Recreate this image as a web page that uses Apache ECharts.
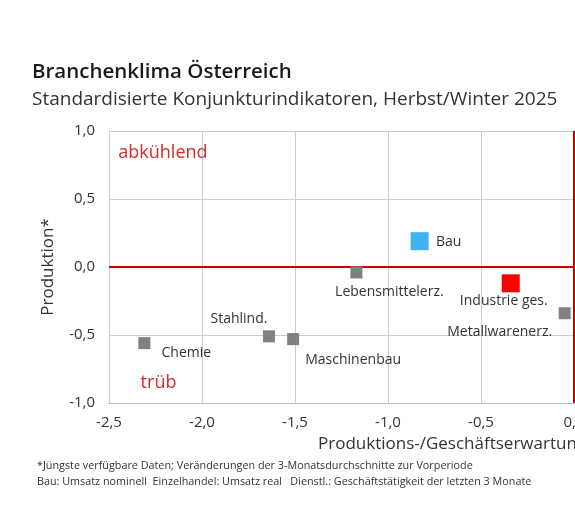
<!DOCTYPE html>
<html>
<head>
<meta charset="utf-8">
<title>Branchenklima Österreich</title>
<script src="https://cdn.jsdelivr.net/npm/echarts@6/dist/echarts.min.js"></script>
<style>
	html, body { margin: 0; padding: 0; background: #fff; }
	#chart { width: 575px; height: 515px; }
</style>
</head>
<body>
<div id="chart"></div>
<script>
/* Daten */
var branchen = ["Bau", "Lebensmittelerz.", "Industrie ges.", "Metallwarenerz.", "Stahlind.", "Maschinenbau", "Chemie"];
var erwartung = [-0.83, -1.17, -0.34, -0.05, -1.64, -1.51, -2.31];
var produktion = [0.19, -0.04, -0.12, -0.34, -0.51, -0.53, -0.56];
var xTicks = [-2.5, -2.0, -1.5, -1.0, -0.5, 0, 0.5, 1.0];
var yTicks = [-1.0, -0.5, 0, 0.5, 1.0];
var quadranten = ["abkühlend", "trüb"];
var quadrantX = [-2.45, -2.33];
var quadrantY = [0.84, -0.85];

/* Aussehen je Punkt */
var farbe = { "Bau": "#3fb4ee", "Industrie ges.": "#ff0000" };
var groesse = { "Bau": 18, "Industrie ges.": 18 };
var labelOffset = {
	"Bau": [29, 1],
	"Lebensmittelerz.": [33, 20],
	"Industrie ges.": [-7, 18],
	"Metallwarenerz.": [-65, 19],
	"Stahlind.": [-30, -17],
	"Maschinenbau": [60, 21],
	"Chemie": [42, 10]
};

var FONT = "'Open Sans', 'Noto Sans', sans-serif";

function fmt(v) {
	return v.toFixed(1).replace(".", ",");
}

zeichnen();

/*
**Diagramm zeichnen
*/
function zeichnen() {
	var chart = echarts.init(document.getElementById("chart"));

	var punkte = branchen.map(function (name, i) {
		return {
			name: name,
			value: [erwartung[i], produktion[i]],
			symbolSize: groesse[name] || 12,
			itemStyle: { color: farbe[name] || "#808080", opacity: 1 },
			label: { offset: labelOffset[name] }
		};
	});

	var quadText = quadranten.map(function (t, i) {
		return { name: t, value: [quadrantX[i], quadrantY[i]] };
	});

	chart.setOption({
		backgroundColor: "#fff",
		animation: false,
		textStyle: { fontFamily: FONT },
		title: [
			{
				text: "Branchenklima Österreich",
				left: 27, top: 57,
				textStyle: { fontFamily: FONT, fontSize: 20.5, fontWeight: 600, color: "#1a1a1a" }
			},
			{
				text: "Standardisierte Konjunkturindikatoren, Herbst/Winter 2025",
				left: 27, top: 85,
				textStyle: { fontFamily: FONT, fontSize: 19, fontWeight: "normal", color: "#333" }
			}
		],
		grid: { left: 109, top: 131, width: 651, height: 272, outerBoundsMode: "none", containLabel: false },
		xAxis: {
			type: "value",
			min: -2.5, max: 1.0, interval: 0.5,
			axisLine: { show: true, onZero: false, lineStyle: { color: "#bbb" } },
			axisTick: { show: false },
			axisLabel: { fontSize: 15, color: "#333", margin: 12, formatter: fmt },
			splitLine: { show: true, lineStyle: { color: "#ccc" } }
		},
		yAxis: {
			type: "value",
			min: -1.0, max: 1.0, interval: 0.5,
			name: "Produktion*",
			nameLocation: "middle",
			nameGap: 52,
			nameTextStyle: { fontSize: 17, color: "#333" },
			axisLine: { show: true, lineStyle: { color: "#bbb" } },
			axisTick: { show: false },
			axisLabel: { fontSize: 15, color: "#333", margin: 14, formatter: fmt },
			splitLine: { show: true, lineStyle: { color: "#ccc" } }
		},
		series: [
			{
				type: "scatter",
				symbol: "rect",
				data: punkte,
				z: 5,
				label: {
					show: true,
					position: "inside",
					formatter: "{b}",
					fontSize: 14,
					color: "#333"
				},
				markLine: {
					silent: true,
					symbol: "none",
					label: { show: false },
					lineStyle: { color: "#cc0000", width: 2, type: "solid" },
					data: [{ xAxis: 0 }, { yAxis: 0 }]
				}
			},
			{
				// Quadranten-Beschriftung
				type: "scatter",
				symbolSize: 0,
				data: quadText,
				itemStyle: { opacity: 1 },
				label: {
					show: true,
					position: "right",
					distance: 0,
					formatter: "{b}",
					fontSize: 18,
					color: "#d42a2a"
				}
			}
		],
		graphic: [
			{
				type: "text", left: 318, top: 436,
				style: { text: "Produktions-/Geschäftserwartungen", font: "17px " + FONT, fill: "#333" }
			},
			{
				type: "text", left: 37, top: 460,
				style: { text: "*Jüngste verfügbare Daten; Veränderungen der 3-Monatsdurchschnitte zur Vorperiode", font: "10.8px " + FONT, fill: "#333" }
			},
			{
				type: "text", left: 37, top: 476,
				style: { text: "Bau: Umsatz nominell  Einzelhandel: Umsatz real   Dienstl.: Geschäftstätigkeit der letzten 3 Monate", font: "10.8px " + FONT, fill: "#333" }
			}
		]
	});
}
</script>
</body>
</html>
